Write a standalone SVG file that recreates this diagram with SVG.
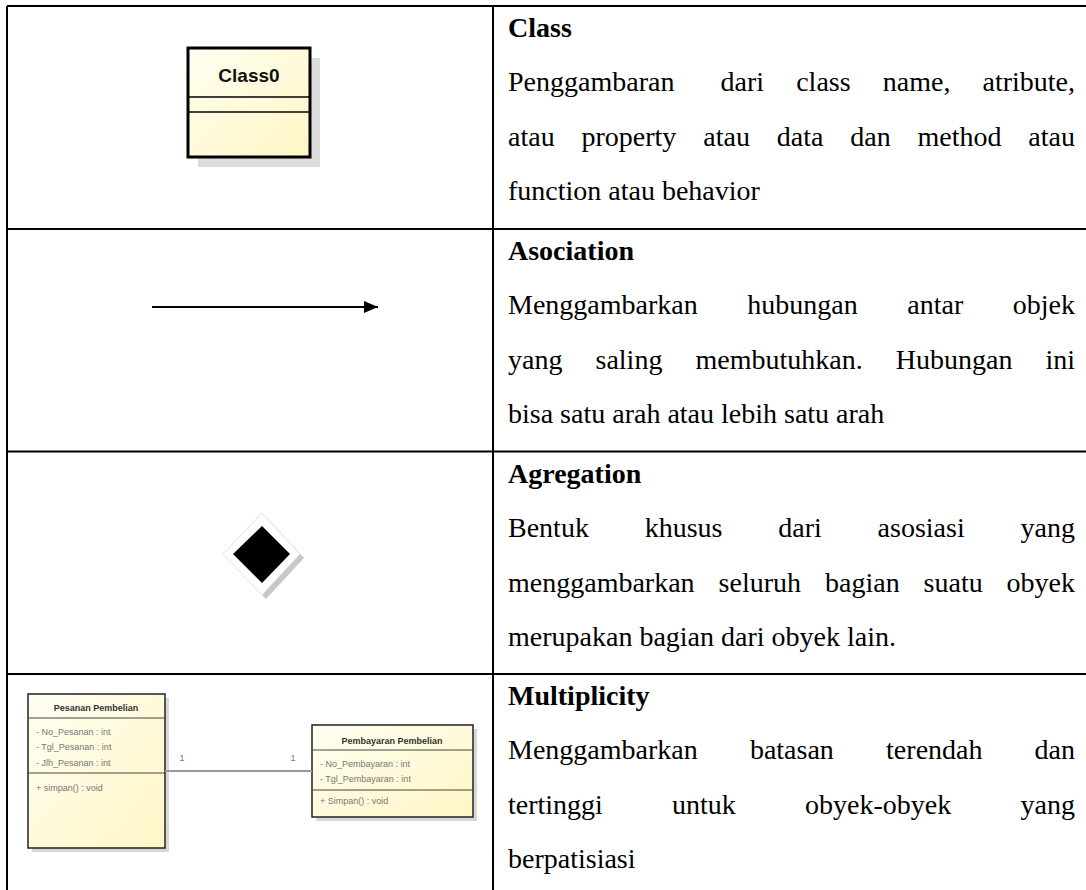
<svg xmlns="http://www.w3.org/2000/svg" width="1086" height="890" viewBox="0 0 1086 890">
<defs>
<linearGradient id="yel" x1="0" y1="0" x2="1" y2="1">
<stop offset="0" stop-color="#fffef2"/>
<stop offset="1" stop-color="#fff6c4"/>
</linearGradient>
<marker id="ah" markerWidth="14" markerHeight="12" refX="14" refY="6" orient="auto" markerUnits="userSpaceOnUse">
<path d="M0,0 L14,6 L0,12 Z" fill="#000"/>
</marker>
</defs>
<style>
.t{font-family:"Liberation Serif","Times New Roman",serif;font-size:28px;fill:#000}
.h{font-weight:bold}
.grid{stroke:#000;stroke-width:2;fill:none}
.uml{font-family:"Liberation Sans",Arial,sans-serif;font-size:9px;fill:#777}
.umlh{font-family:"Liberation Sans",Arial,sans-serif;font-size:9px;font-weight:bold;fill:#333}
.box{fill:url(#yel);stroke:#222;stroke-width:1.5}
.sep{stroke:#444;stroke-width:1}
</style>

<g id="table">
<path class="grid" d="M7,6 H1086 M7,6 V890 M493,6 V890 M7,229 H1086 M7,451.5 H1086 M7,674 H1086"/>
</g>

<g id="class-symbol">
<rect x="198" y="58" width="122" height="109" fill="#dcdcdc"/>
<rect x="188" y="48" width="122" height="109" fill="url(#yel)" stroke="#000" stroke-width="3"/>
<line x1="188" y1="97" x2="310" y2="97" stroke="#000" stroke-width="1.5"/>
<line x1="188" y1="112" x2="310" y2="112" stroke="#000" stroke-width="1.5"/>
<text x="249" y="82" text-anchor="middle" font-family="Liberation Sans, Arial, sans-serif" font-size="19" font-weight="bold" fill="#111">Class0</text>
</g>

<g id="association-symbol">
<line x1="152" y1="307" x2="378" y2="307" stroke="#000" stroke-width="2" marker-end="url(#ah)"/>
</g>

<g id="aggregation-symbol">
<polygon points="266,517 304,558 266,599 227,558" fill="#c8c8c8"/>
<polygon points="262,513 300,554 262,595 223,554" fill="#fff" stroke="#e0e0e0" stroke-width="1"/>
<polygon points="262,526 290,554 262,583 233,554" fill="#000"/>
</g>

<g id="multiplicity-example">
<rect x="32" y="698" width="137" height="154" fill="#d8d8d8"/>
<rect x="28" y="694" width="137" height="154" class="box"/>
<line x1="28" y1="718" x2="165" y2="718" class="sep"/>
<line x1="28" y1="773" x2="165" y2="773" class="sep"/>
<text x="96" y="711" text-anchor="middle" class="umlh">Pesanan Pembelian</text>
<text x="36" y="735" class="uml">- No_Pesanan : int</text>
<text x="36" y="750" class="uml">- Tgl_Pesanan : int</text>
<text x="36" y="766" class="uml">- Jlh_Pesanan : int</text>
<text x="36" y="791" class="uml">+ simpan() : void</text>

<rect x="316" y="729" width="161" height="92" fill="#d8d8d8"/>
<rect x="312" y="725" width="161" height="92" class="box"/>
<line x1="312" y1="750" x2="473" y2="750" class="sep"/>
<line x1="312" y1="790" x2="473" y2="790" class="sep"/>
<text x="392" y="744" text-anchor="middle" class="umlh">Pembayaran Pembelian</text>
<text x="320" y="767" class="uml">- No_Pembayaran : int</text>
<text x="320" y="782" class="uml">- Tgl_Pembayaran : int</text>
<text x="320" y="804" class="uml">+ Simpan() : void</text>
</g>

<g id="connectors">
<line x1="165" y1="771" x2="312" y2="771" stroke="#9a9a9a" stroke-width="2"/>
<text x="182" y="761" text-anchor="middle" class="uml" fill="#999">1</text>
<text x="293" y="761" text-anchor="middle" class="uml" fill="#999">1</text>
</g>

<g id="descriptions">
<text class="t h" x="508" y="37">Class</text>
<text class="t" y="91"><tspan x="508">Penggambaran</tspan><tspan x="720.6">dari</tspan><tspan x="796.2">class</tspan><tspan x="882.8">name,</tspan><tspan x="1075" text-anchor="end">atribute,</tspan></text>
<text class="t" y="146"><tspan x="508">atau</tspan><tspan x="581.5">property</tspan><tspan x="703.3">atau</tspan><tspan x="776.8">data</tspan><tspan x="850.3">dan</tspan><tspan x="917.6">method</tspan><tspan x="1075" text-anchor="end">atau</tspan></text>
<text class="t" x="508" y="200">function atau behavior</text>

<text class="t h" x="508" y="260">Asociation</text>
<text class="t" y="314"><tspan x="508">Menggambarkan</tspan><tspan x="747.3">hubungan</tspan><tspan x="907.3">antar</tspan><tspan x="1075" text-anchor="end">objek</tspan></text>
<text class="t" y="369"><tspan x="508">yang</tspan><tspan x="595.5">saling</tspan><tspan x="695.5">membutuhkan.</tspan><tspan x="895.8">Hubungan</tspan><tspan x="1075" text-anchor="end">ini</tspan></text>
<text class="t" x="508" y="423">bisa satu arah atau lebih satu arah</text>

<text class="t h" x="508" y="483">Agregation</text>
<text class="t" y="537"><tspan x="508">Bentuk</tspan><tspan x="644.7">khusus</tspan><tspan x="778.3">dari</tspan><tspan x="877.6">asosiasi</tspan><tspan x="1075" text-anchor="end">yang</tspan></text>
<text class="t" y="592"><tspan x="508">menggambarkan</tspan><tspan x="718.6">seluruh</tspan><tspan x="825">bagian</tspan><tspan x="923.6">suatu</tspan><tspan x="1075" text-anchor="end">obyek</tspan></text>
<text class="t" x="508" y="646">merupakan bagian dari obyek lain.</text>

<text class="t h" x="508" y="705">Multiplicity</text>
<text class="t" y="759"><tspan x="508">Menggambarkan</tspan><tspan x="749.9">batasan</tspan><tspan x="886.1">terendah</tspan><tspan x="1075" text-anchor="end">dan</tspan></text>
<text class="t" y="814"><tspan x="508">tertinggi</tspan><tspan x="672.1">untuk</tspan><tspan x="805.1">obyek-obyek</tspan><tspan x="1075" text-anchor="end">yang</tspan></text>
<text class="t" x="508" y="868">berpatisiasi</text>
</g>
</svg>
